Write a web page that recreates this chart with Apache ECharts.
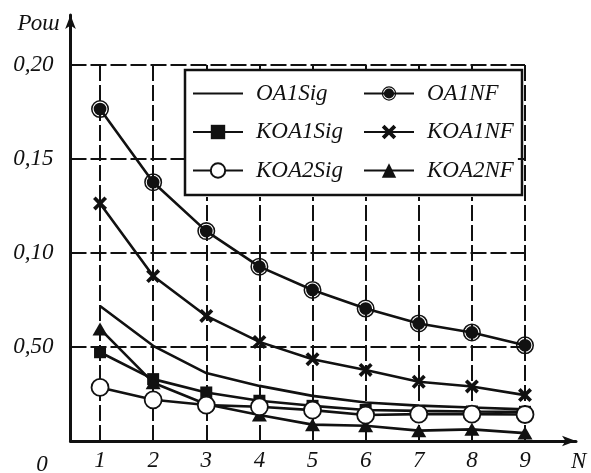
<!DOCTYPE html>
<html>
<head>
<meta charset="utf-8">
<script src="https://cdn.jsdelivr.net/npm/echarts@6/dist/echarts.min.js"></script>
<style>html,body{margin:0;padding:0;background:#fff}#c{width:591px;height:473px}</style>
</head>
<body>
<div id="c"></div>
<script>
// ---- data ----
const xValues = [1, 2, 3, 4, 5, 6, 7, 8, 9];
const oa1Sig  = [0.0718, 0.0506, 0.0361, 0.0293, 0.0240, 0.0205, 0.0188, 0.0178, 0.0168];
const oa1NF   = [0.1765, 0.1376, 0.1116, 0.0927, 0.0803, 0.0704, 0.0625, 0.0577, 0.0509];
const koa1Sig = [0.0472, 0.0329, 0.0258, 0.0214, 0.0187, 0.0165, 0.0160, 0.0157, 0.0155];
const koa1NF  = [0.1263, 0.0877, 0.0665, 0.0527, 0.0435, 0.0378, 0.0315, 0.0290, 0.0244];
const koa2Sig = [0.0285, 0.0219, 0.0191, 0.0182, 0.0164, 0.0138, 0.0143, 0.0143, 0.0141];
const koa2NF  = [0.0596, 0.0310, 0.0195, 0.0138, 0.0087, 0.0081, 0.0055, 0.0062, 0.0042];
const seriesNames = ['OA1Sig', 'OA1NF', 'KOA1Sig', 'KOA1NF', 'KOA2Sig', 'KOA2NF'];
const yTickValues = [0.05, 0.10, 0.15, 0.20];
const yTickLabels = ['0,50', '0,10', '0,15', '0,20'];
const xTickLabels = ['1', '2', '3', '4', '5', '6', '7', '8', '9'];
const xAxisName = 'N';
const yAxisName = 'Рош';
const originLabel = '0';

// ---- chart ----
const INK = '#111';
const FONT = '"Liberation Serif", "Times New Roman", Times, serif';
const xMin = 0.444, xMax = 9.96, yMin = 0, yMax = 0.2265;
const pairs = arr => arr.map((v, i) => [xValues[i], v]);
const dblCircle = 'path://M10 0A10 10 0 1 1 10 20A10 10 0 1 1 10 0Z M10 1.7A8.3 8.3 0 1 0 10 18.3A8.3 8.3 0 1 0 10 1.7Z M10 2.9A7.1 7.1 0 1 1 10 17.1A7.1 7.1 0 1 1 10 2.9Z';
const cross = 'path://M0 2.6L2.6 0L7 4.4L11.4 0L14 2.6L9.6 7L14 11.4L11.4 14L7 9.6L2.6 14L0 11.4L4.4 7Z';

const gridLines = [];
xValues.forEach(x => gridLines.push([{coord: [x, yMin]}, {coord: [x, yTickValues[yTickValues.length - 1]]}]));
yTickValues.forEach(y => gridLines.push([{coord: [xMin, y]}, {coord: [xValues[xValues.length - 1], y]}]));

const lineStyle = {color: INK, width: 2.6};
const textStyle = {fontFamily: FONT, fontStyle: 'italic', fontSize: 23, color: INK};

const chart = echarts.init(document.getElementById('c'), null, {renderer: 'canvas'});
chart.setOption({
  animation: false,
  backgroundColor: '#fff',
  grid: {left: 70.5, right: 15, top: 15, bottom: 31, containLabel: false},
  xAxis: {
    type: 'value', min: xMin, max: xMax,
    name: xAxisName, nameLocation: 'end', nameGap: -5,
    nameTextStyle: Object.assign({}, textStyle, {verticalAlign: 'top', padding: [9, 0, 0, 0]}),
    axisLine: {onZero: false, lineStyle: {color: INK, width: 3}, symbol: ['none', 'arrow'], symbolSize: [8, 14]},
    axisTick: {show: false},
    splitLine: {show: false},
    axisLabel: Object.assign({}, textStyle, {customValues: xValues, margin: 8,
      formatter: v => xTickLabels[xValues.indexOf(Math.round(v))] || ''})
  },
  yAxis: {
    type: 'value', min: yMin, max: yMax,
    name: yAxisName, nameLocation: 'end', nameGap: -9,
    nameTextStyle: Object.assign({}, textStyle, {align: 'right', verticalAlign: 'middle', padding: [0, 11, 0, 0]}),
    axisLine: {onZero: false, lineStyle: {color: INK, width: 3}, symbol: ['none', 'arrow'], symbolSize: [8, 14]},
    axisTick: {show: false},
    splitLine: {show: false},
    axisLabel: Object.assign({}, textStyle, {customValues: yTickValues, margin: 17,
      formatter: v => {
        const i = yTickValues.findIndex(t => Math.abs(t - v) < 1e-6);
        return i >= 0 ? yTickLabels[i] : '';
      }})
  },
  legend: [
    {
      data: [seriesNames[0], seriesNames[2], seriesNames[4]],
      orient: 'vertical', left: 185, top: 70, padding: [12, 40, 15, 7], z: 20,
      backgroundColor: '#fff',
      itemWidth: 50, itemHeight: 18, itemGap: 15.5,
      textStyle: Object.assign({}, textStyle, {lineHeight: 22, padding: [0, 0, 0, 8]})
    },
    {
      data: [seriesNames[1], seriesNames[3], seriesNames[5]],
      orient: 'vertical', left: 350, top: 70, padding: [12, 4, 15, 13], z: 21,
      backgroundColor: '#fff',
      itemWidth: 50, itemHeight: 18, itemGap: 15.5,
      textStyle: Object.assign({}, textStyle, {lineHeight: 22, padding: [0, 0, 0, 8]})
    }
  ],
  graphic: [
    {type: 'rect', z: 30, shape: {x: 185, y: 70, width: 337, height: 125},
     style: {fill: 'none', stroke: INK, lineWidth: 2.5}},
    {type: 'text', z: 30, x: 42, y: 465,
     style: {text: originLabel, font: 'italic 23px "Liberation Serif", "Times New Roman", serif', fill: INK, align: 'center', verticalAlign: 'middle'}}
  ],
  series: [
    {
      name: '_grid', type: 'line', data: [], z: 1, silent: true,
      markLine: {silent: true, z: 1, symbol: 'none', label: {show: false}, animation: false,
        lineStyle: {color: INK, width: 2, type: [16, 4]}, emphasis: {disabled: true}, data: gridLines}
    },
    {name: seriesNames[0], type: 'line', z: 2, data: pairs(oa1Sig), symbol: 'none',
     itemStyle: {color: 'rgba(0,0,0,0)'}, lineStyle: lineStyle},
    {name: seriesNames[1], type: 'line', z: 2, data: pairs(oa1NF), symbol: dblCircle, symbolSize: 18,
     itemStyle: {color: INK}, lineStyle: lineStyle},
    {name: seriesNames[2], type: 'line', z: 2, data: pairs(koa1Sig), symbol: 'rect', symbolSize: 12,
     itemStyle: {color: INK}, lineStyle: lineStyle},
    {name: seriesNames[3], type: 'line', z: 2, data: pairs(koa1NF), symbol: cross, symbolSize: 14,
     itemStyle: {color: INK}, lineStyle: lineStyle},
    {name: seriesNames[5], type: 'line', z: 2, data: pairs(koa2NF), symbol: 'triangle', symbolSize: [15, 13],
     itemStyle: {color: INK}, lineStyle: lineStyle},
    {name: seriesNames[4], type: 'line', z: 3, data: pairs(koa2Sig), symbol: 'circle', symbolSize: 17,
     itemStyle: {color: '#fff', borderColor: INK, borderWidth: 1.8}, lineStyle: lineStyle}
  ]
});
</script>
</body>
</html>
